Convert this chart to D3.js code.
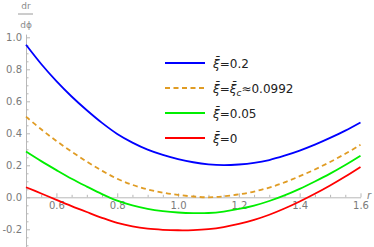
<!DOCTYPE html>
<html>
<head>
<meta charset="utf-8">
<script src="https://cdn.jsdelivr.net/npm/d3@7"></script>
<style>
    body { margin: 0; background: #fff; }
    svg { display: block; font-family: "DejaVu Sans", sans-serif; }
    .axis text { fill: #7a7a7a; font-size: 10px; font-family: "DejaVu Sans", sans-serif; }
    .axis line, .axis path { stroke: #b8b8b8; }
    .legend-text { fill: #222; font-size: 12px; }
</style>
</head>
<body>
<script>
// Chart dimensions
const width = 374;
const height = 247;

// r values shared by all curves
const rValues = [0.50, 0.55, 0.60, 0.65, 0.70, 0.75, 0.80, 0.85, 0.90, 0.95, 1.00, 1.05,
    1.10, 1.15, 1.20, 1.25, 1.30, 1.35, 1.40, 1.45, 1.50, 1.55, 1.60];

// dr/dphi, one array per xi
const xi020 = [0.953, 0.833, 0.726, 0.630, 0.544, 0.465, 0.396, 0.342, 0.298, 0.265, 0.239, 0.219,
    0.206, 0.201, 0.205, 0.215, 0.233, 0.260, 0.292, 0.329, 0.371, 0.417, 0.468];
const xiCrit = [0.504, 0.425, 0.352, 0.285, 0.223, 0.166, 0.116, 0.078, 0.049, 0.029, 0.015, 0.005,
    0.000, 0.006, 0.018, 0.036, 0.061, 0.093, 0.132, 0.174, 0.221, 0.272, 0.328];
const xi005 = [0.286, 0.226, 0.170, 0.116, 0.067, 0.020, -0.021, -0.051, -0.072, -0.086, -0.095, -0.099,
    -0.098, -0.089, -0.073, -0.052, -0.023, 0.012, 0.053, 0.099, 0.148, 0.202, 0.260];
const xi000 = [0.063, 0.024, -0.016, -0.055, -0.092, -0.128, -0.160, -0.182, -0.196, -0.203, -0.206, -0.205,
    -0.199, -0.186, -0.166, -0.141, -0.109, -0.070, -0.026, 0.022, 0.074, 0.130, 0.190];

// Tick values
const xTicks = [0.6, 0.8, 1.0, 1.2, 1.4, 1.6];
const yTicks = [-0.2, 0.0, 0.2, 0.4, 0.6, 0.8, 1.0];

// Legend entries
const legendLabels = ["0.2", "crit", "0.05", "0"];

const series = [
    { key: "0.2", values: xi020, color: "#0000ff", dash: null },
    { key: "crit", values: xiCrit, color: "#e09c24", dash: "5,3.5" },
    { key: "0.05", values: xi005, color: "#00ee00", dash: null },
    { key: "0", values: xi000, color: "#ff0000", dash: null }
];

const svg = d3.select("body")
    .append("svg")
    .attr("width", width)
    .attr("height", height);

const xScale = d3.scaleLinear()
    .domain([0.5, 1.6])
    .range([26, 360.5]);

const yScale = d3.scaleLinear()
    .domain([-0.31, 1.02])
    .range([246.9, 34.1]);

// Minor ticks every 0.05
const xMinor = d3.range(11, 33).map(i => i * 0.05).filter(v => Math.abs(v * 5 - Math.round(v * 5)) > 1e-6);
const yMinor = d3.range(-6, 21).map(i => i * 0.05).filter(v => Math.abs(v * 5 - Math.round(v * 5)) > 1e-6);

// x axis (ticks point up)
svg.append("g")
    .attr("class", "axis")
    .attr("transform", `translate(0, ${yScale(0)})`)
    .call(d3.axisBottom(xScale).tickValues(xMinor).tickSize(-2.5).tickSizeOuter(0).tickFormat(""))
    .call(g => g.select(".domain").remove());

svg.append("g")
    .attr("class", "axis")
    .attr("transform", `translate(0, ${yScale(0)})`)
    .call(d3.axisBottom(xScale).tickValues(xTicks).tickSize(-4).tickSizeOuter(0).tickPadding(5)
        .tickFormat(d3.format(".1f")));

// y axis (ticks point right)
svg.append("g")
    .attr("class", "axis")
    .attr("transform", `translate(${xScale(0.5)}, 0)`)
    .call(d3.axisLeft(yScale).tickValues(yMinor).tickSize(-2.5).tickSizeOuter(0).tickFormat(""))
    .call(g => g.select(".domain").remove());

svg.append("g")
    .attr("class", "axis")
    .attr("transform", `translate(${xScale(0.5)}, 0)`)
    .call(d3.axisLeft(yScale).tickValues(yTicks).tickSize(-4).tickSizeOuter(0).tickPadding(4)
        .tickFormat(d3.format(".1f")))
    .call(g => g.selectAll("text").text(d => d3.format(".1f")(d).replace("−", "-")));

// Curves
const line = d3.line()
    .x((d, i) => xScale(rValues[i]))
    .y(d => yScale(d))
    .curve(d3.curveCatmullRom);

series.forEach(s => {
    svg.append("path")
        .datum(s.values)
        .attr("fill", "none")
        .attr("stroke", s.color)
        .attr("stroke-width", 1.8)
        .attr("stroke-dasharray", s.dash)
        .attr("d", line);
});

// Axis labels
svg.append("text")
    .attr("x", 367)
    .attr("y", 199)
    .attr("fill", "#7a7a7a")
    .attr("font-size", 10)
    .attr("font-style", "italic")
    .text("r");

svg.append("text")
    .attr("x", 26)
    .attr("y", 9)
    .attr("text-anchor", "middle")
    .attr("fill", "#8a8a8a")
    .attr("font-size", 9)
    .text("dr");

svg.append("line")
    .attr("x1", 18)
    .attr("x2", 33)
    .attr("y1", 14)
    .attr("y2", 14)
    .attr("stroke", "#9a9a9a")
    .attr("stroke-width", 1);

svg.append("text")
    .attr("x", 26)
    .attr("y", 28)
    .attr("text-anchor", "middle")
    .attr("fill", "#8a8a8a")
    .attr("font-size", 9)
    .text("dϕ");

// Legend
const legend = svg.append("g")
    .attr("transform", "translate(165, 63)");

series.forEach((s, i) => {
    const row = legend.append("g")
        .attr("transform", `translate(0, ${i * 25})`);

    row.append("line")
        .attr("x1", 0)
        .attr("x2", 40)
        .attr("stroke", s.color)
        .attr("stroke-width", 1.8)
        .attr("stroke-dasharray", s.dash);

    const t = row.append("text")
        .attr("class", "legend-text")
        .attr("x", 48)
        .attr("y", 4.5);

    t.append("tspan").attr("font-style", "italic").text("ξ\u0304");
    if (legendLabels[i] === "crit") {
        t.append("tspan").text("=");
        t.append("tspan").attr("font-style", "italic").text("ξ\u0304");
        t.append("tspan").attr("font-style", "italic").attr("font-size", 9).attr("dy", 3).text("c");
        t.append("tspan").attr("dy", -3).text("≈0.0992");
    } else {
        t.append("tspan").text("=" + legendLabels[i]);
    }
});
</script>
</body>
</html>
